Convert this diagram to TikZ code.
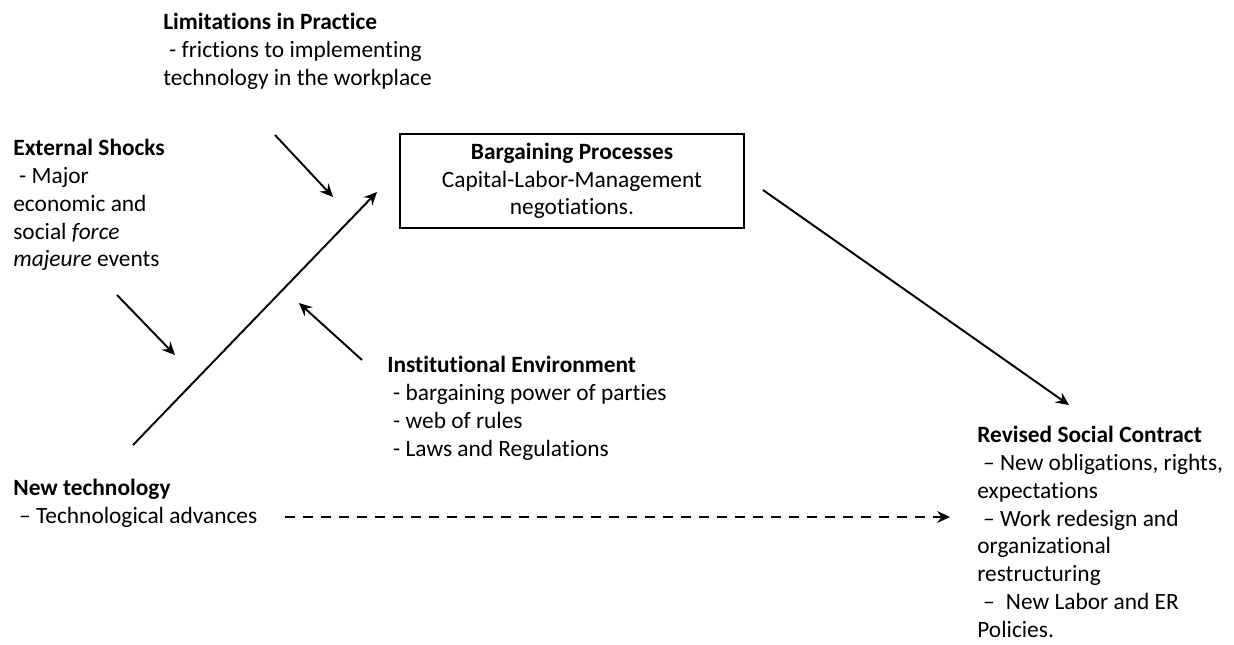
\documentclass[tikz,border=0pt]{standalone}
\usepackage{fontspec}
\setmainfont{Carlito}[Ligatures=NoCommon]
\usetikzlibrary{arrows.meta,positioning}
\newcommand{\lead}{\hspace*{0.25em}}

\begin{document}
\begin{tikzpicture}[x=0.2mm,y=-0.2mm,>={Stealth[length=2.6mm,width=2.4mm,inset=0.9mm]},
  every node/.style={font=\fontsize{13.3}{15.8}\selectfont},
  txt/.style={anchor=north west,align=left,inner sep=0pt},
  arr/.style={->,line width=1.1pt}]
\useasboundingbox (0,0) rectangle (1234,644);
\node[txt] (lim) at (163,13) {\textbf{Limitations in Practice}\\\lead- frictions to implementing\\technology in the workplace};
\node[txt] (ext) at (13,139) {\textbf{External Shocks}\\\lead- Major\\economic and\\social \emph{force}\\\emph{majeure} events};
\node[draw,line width=0.7pt,align=center,minimum width=68.8mm,minimum height=18.8mm] (bp) at (572,181) {\textbf{Bargaining Processes}\\Capital-Labor-Management\\negotiations.};
\node[txt] (inst) at (387,356) {\textbf{Institutional Environment}\\\lead- bargaining power of parties\\\lead- web of rules\\\lead- Laws and Regulations};
\node[txt] (tech) at (13,479) {\textbf{New technology}\\\lead{}-- Technological advances};
\node[txt] (rsc) at (977,426) {\textbf{Revised Social Contract}\\\lead{}-- New obligations, rights,\\expectations\\\lead{}-- Work redesign and\\organizational\\restructuring\\\lead{}--\lead{} New Labor and ER\\Policies.};
% arrow ends
\coordinate (limA) at (275,135);
\coordinate (limB) at (333,197);
\coordinate (extA) at (117,295);
\coordinate (extB) at (175,355);
\coordinate (techA) at (133,445);
\coordinate (techB) at (377,192);
\coordinate (instA) at (362,360);
\coordinate (instB) at (299,303);
\coordinate (bpA) at (763,190);
\coordinate (rscB) at (1069,405);
\coordinate (dashA) at (285,517);
\coordinate (dashB) at (950,517);
\draw[arr] (limA) -- (limB);
\draw[arr] (extA) -- (extB);
\draw[arr] (techA) -- (techB);
\draw[arr] (instA) -- (instB);
\draw[arr] (bpA) -- (rscB);
\draw[arr,dash pattern=on 2mm off 1.6mm] (dashA) -- (dashB);
\end{tikzpicture}
\end{document}
